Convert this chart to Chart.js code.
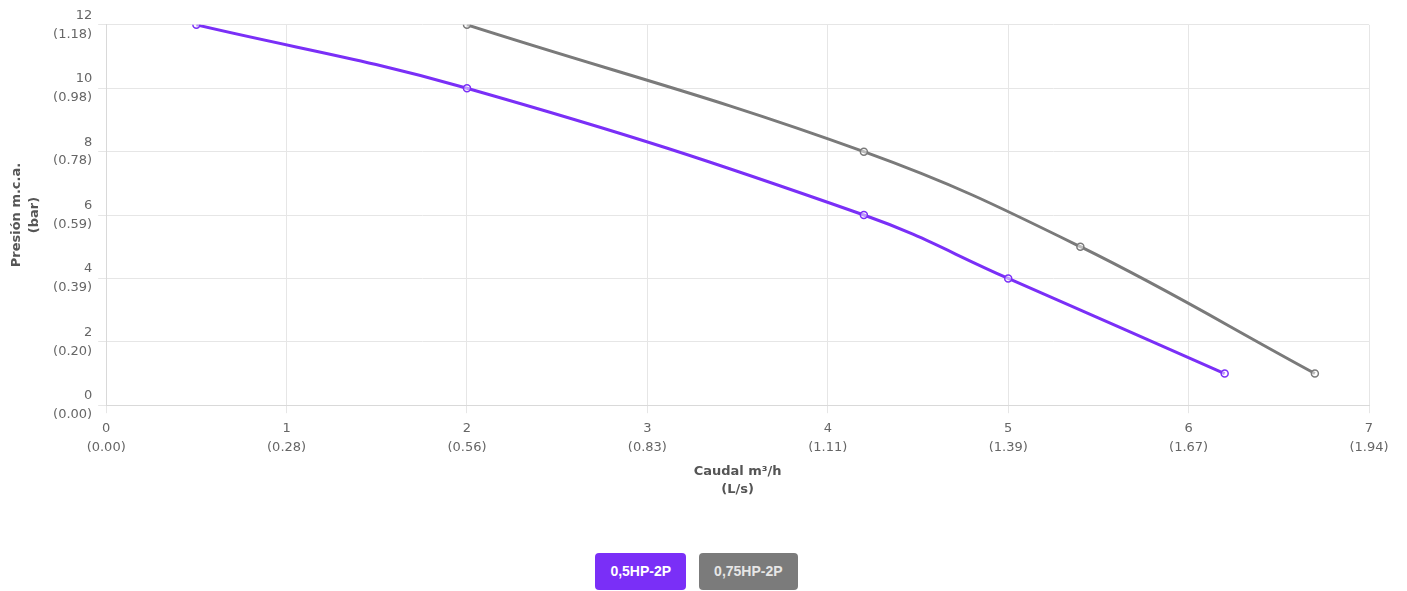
<!DOCTYPE html>
<html>
<head>
<meta charset="utf-8">
<script src="https://cdn.jsdelivr.net/npm/chart.js@4/dist/chart.umd.min.js"></script>
<style>
  html, body { margin: 0; padding: 0; background: #fff; }
  #wrap { position: absolute; left: 0; top: 0; width: 1407px; height: 506px; }
  #legend { position: absolute; left: 0; top: 553px; width: 1393px; display: flex; justify-content: center; gap: 13px; }
  #legend .btn { height: 37px; line-height: 37px; padding: 0 15px; border-radius: 4px; color: #fff;
    font-family: "Liberation Sans", Arial, sans-serif; font-size: 14px; font-weight: bold; }
</style>
</head>
<body>
<div id="wrap"><canvas id="c"></canvas></div>
<div id="legend"></div>
<script>
const seriesNames = ["0,5HP-2P", "0,75HP-2P"];
const seriesColors = ["#7a2ff7", "#7a7a7a"];
const legendColors = ["#7a2ff7", "#7b7b7b"];
const flow05 = [0.5, 2, 4.2, 5, 6.2];
const head05 = [12, 10, 6, 4, 1];
const flow075 = [2, 4.2, 5.4, 6.7];
const head075 = [12, 8, 5, 1];
const xTicks = [0, 1, 2, 3, 4, 5, 6, 7];
const xTickLabels = [["0", "(0.00)"], ["1", "(0.28)"], ["2", "(0.56)"], ["3", "(0.83)"], ["4", "(1.11)"], ["5", "(1.39)"], ["6", "(1.67)"], ["7", "(1.94)"]];
const yTicks = [0, 2, 4, 6, 8, 10, 12];
const yTickLabels = [["0", "(0.00)"], ["2", "(0.20)"], ["4", "(0.39)"], ["6", "(0.59)"], ["8", "(0.78)"], ["10", "(0.98)"], ["12", "(1.18)"]];
const xTitle = ["Caudal m³/h", "(L/s)"];
const yTitle = ["Presión m.c.a.", "(bar)"];

function toPts(xs, ys) { return xs.map((x, i) => ({ x: x, y: ys[i] })); }
const seriesData = [toPts(flow05, head05), toPts(flow075, head075)];

const tickFont = { family: "'DejaVu Sans', sans-serif", size: 13, lineHeight: 1.45 };
const titleFont = { family: "'DejaVu Sans', sans-serif", size: 13, weight: 'bold', lineHeight: 1.35 };

new Chart(document.getElementById('c'), {
  type: 'line',
  data: {
    datasets: seriesNames.map((name, i) => ({
      label: name,
      data: seriesData[i],
      borderColor: seriesColors[i],
      backgroundColor: seriesColors[i],
      pointBackgroundColor: 'rgba(255,255,255,0.5)',
      pointBorderColor: seriesColors[i],
      pointBorderWidth: 1.5,
      pointRadius: 3.5,
      borderWidth: 3,
      tension: 0.4,
      fill: false
    }))
  },
  options: {
    responsive: true,
    maintainAspectRatio: false,
    animation: false,
    layout: { padding: { top: 7, right: 38, left: 4, bottom: 4 } },
    plugins: { legend: { display: false }, tooltip: { enabled: false } },
    scales: {
      x: {
        type: 'linear', min: 0, max: 7,
        afterBuildTicks: (ax) => { ax.ticks = xTicks.map(v => ({ value: v })); },
        ticks: {
          color: '#666', font: tickFont, maxRotation: 0, padding: 6,
          callback: (v) => { const i = xTicks.indexOf(v); return i >= 0 ? xTickLabels[i] : ''; }
        },
        grid: { color: '#e6e6e6', tickLength: 8 },
        border: { color: '#d9d9d9' },
        title: { display: true, text: xTitle, color: '#555', font: titleFont, padding: { top: 0 } }
      },
      y: {
        type: 'linear', min: 0, max: 12,
        afterBuildTicks: (ax) => { ax.ticks = yTicks.map(v => ({ value: v })); },
        ticks: {
          color: '#666', font: tickFont, padding: 6,
          callback: (v) => { const i = yTicks.indexOf(v); return i >= 0 ? yTickLabels[i] : ''; }
        },
        grid: { color: '#e6e6e6', tickLength: 8 },
        border: { color: '#d9d9d9' },
        title: { display: true, text: yTitle, color: '#555', font: titleFont, padding: { bottom: 4 } }
      }
    }
  }
});

const leg = document.getElementById('legend');
seriesNames.forEach((name, i) => {
  const b = document.createElement('div');
  b.className = 'btn';
  b.style.background = legendColors[i];
  if (i === 1) b.style.color = '#e6e6e6';
  b.textContent = name;
  leg.appendChild(b);
});
</script>
</body>
</html>
